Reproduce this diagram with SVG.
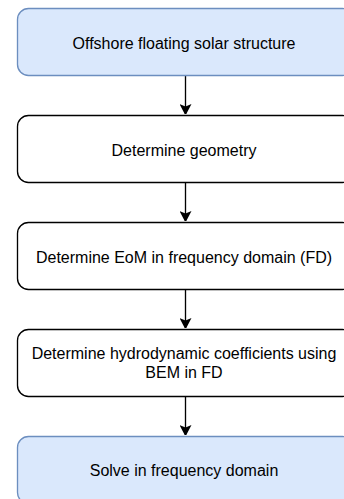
<svg xmlns="http://www.w3.org/2000/svg" width="344" height="499" viewBox="0 0 344 499">
<defs>
<style>
.blue{fill:#dae8fc;stroke:#6c8ebf;stroke-width:1.33}
.white{fill:#ffffff;stroke:#000000;stroke-width:1.33}
text{font-family:"Liberation Sans",Arial,sans-serif;font-size:16px;fill:#000000;text-anchor:middle}
.conn{stroke:#000000;stroke-width:1.33;fill:none}
</style>
<marker id="arr" viewBox="0 0 10 12" refX="10" refY="6" markerWidth="10" markerHeight="12" markerUnits="userSpaceOnUse" orient="auto">
<path d="M0,0 L11.5,6 L0,12 L2.5,6 Z" fill="#000000"/>
</marker>
</defs>
<rect width="344" height="499" fill="#ffffff"/>
<g id="connectors">
<path class="conn" d="M185.5,75 V114" marker-end="url(#arr)"/>
<path class="conn" d="M185.5,182 V221" marker-end="url(#arr)"/>
<path class="conn" d="M185.5,289 V328" marker-end="url(#arr)"/>
<path class="conn" d="M185.5,396 V435" marker-end="url(#arr)"/>
</g>
<g id="n1">
<rect class="blue" x="17.5" y="8.5" width="336" height="67" rx="11" ry="11"/>
<text x="184" y="48.5">Offshore floating solar structure</text>
</g>
<g id="n2">
<rect class="white" x="17.5" y="115.5" width="336" height="67" rx="11" ry="11"/>
<text x="184" y="155.5">Determine geometry</text>
</g>
<g id="n3">
<rect class="white" x="17.5" y="222.5" width="336" height="67" rx="11" ry="11"/>
<text x="184" y="262.5">Determine EoM in frequency domain (FD)</text>
</g>
<g id="n4">
<rect class="white" x="17.5" y="329.5" width="336" height="67" rx="11" ry="11"/>
<text x="184" y="358.5">Determine hydrodynamic coefficients using</text>
<text x="184" y="377.5">BEM in FD</text>
</g>
<g id="n5">
<rect class="blue" x="17.5" y="436.5" width="336" height="67" rx="11" ry="11"/>
<text x="184" y="476">Solve in frequency domain</text>
</g>
</svg>
